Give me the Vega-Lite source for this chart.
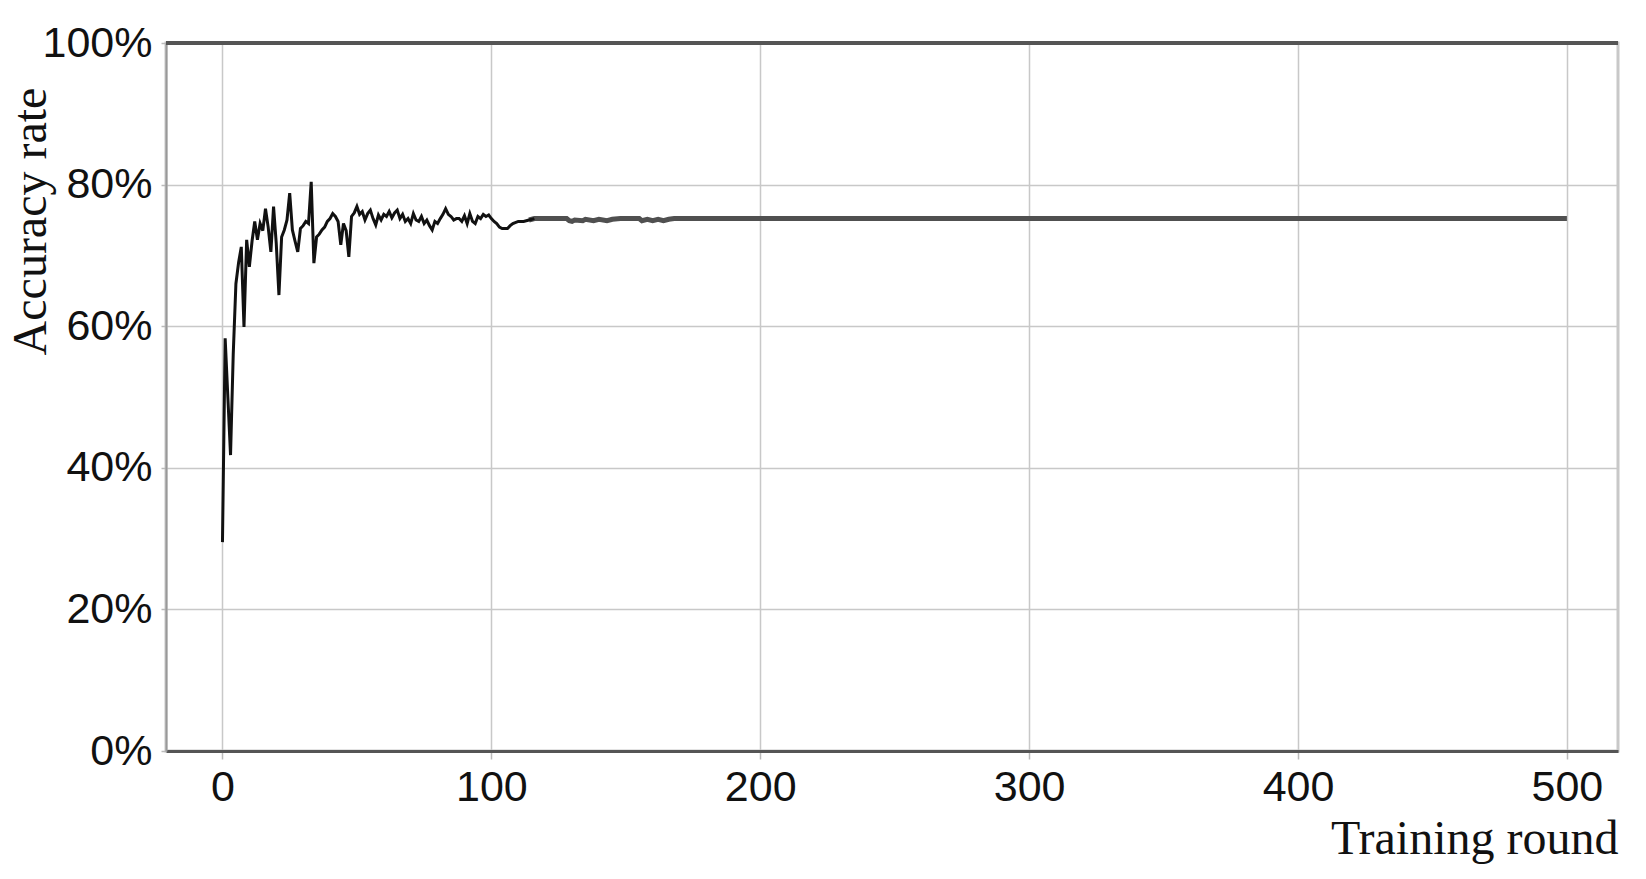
{
  "$schema": "https://vega.github.io/schema/vega-lite/v6.json",
  "width": 1452,
  "height": 708,
  "autosize": {"type": "none"},
  "padding": {"left": 166, "top": 43, "right": 28, "bottom": 128},
  "background": "white",
  "config": {
    "view": {"stroke": "#c8c8c8", "strokeWidth": 3},
    "axis": {
      "labelFont": "Liberation Sans, Arial, sans-serif",
      "labelFontSize": 43,
      "labelColor": "#111",
      "titleFont": "Liberation Serif, Times New Roman, serif",
      "titleFontSize": 48,
      "titleFontWeight": "normal",
      "titleColor": "#111",
      "gridColor": "#c8c8c8",
      "gridWidth": 1.5,
      "tickColor": "#bbbbbb",
      "tickWidth": 1.5
    }
  },
  "data": {
    "values": [
      {"round": 0, "acc": 0.295},
      {"round": 1, "acc": 0.583},
      {"round": 2, "acc": 0.5},
      {"round": 3, "acc": 0.418},
      {"round": 4, "acc": 0.56},
      {"round": 5, "acc": 0.66},
      {"round": 6, "acc": 0.69},
      {"round": 7, "acc": 0.712},
      {"round": 8, "acc": 0.599},
      {"round": 9, "acc": 0.722},
      {"round": 10, "acc": 0.684},
      {"round": 11, "acc": 0.72},
      {"round": 12, "acc": 0.748},
      {"round": 13, "acc": 0.722},
      {"round": 14, "acc": 0.745},
      {"round": 15, "acc": 0.735},
      {"round": 16, "acc": 0.766},
      {"round": 17, "acc": 0.74},
      {"round": 18, "acc": 0.705},
      {"round": 19, "acc": 0.769},
      {"round": 20, "acc": 0.717},
      {"round": 21, "acc": 0.644},
      {"round": 22, "acc": 0.726},
      {"round": 23, "acc": 0.736},
      {"round": 24, "acc": 0.75},
      {"round": 25, "acc": 0.788},
      {"round": 26, "acc": 0.736},
      {"round": 27, "acc": 0.72},
      {"round": 28, "acc": 0.705},
      {"round": 29, "acc": 0.738},
      {"round": 30, "acc": 0.742},
      {"round": 31, "acc": 0.748},
      {"round": 32, "acc": 0.745},
      {"round": 33, "acc": 0.804},
      {"round": 34, "acc": 0.689},
      {"round": 35, "acc": 0.726},
      {"round": 36, "acc": 0.73},
      {"round": 37, "acc": 0.736},
      {"round": 38, "acc": 0.74},
      {"round": 39, "acc": 0.748},
      {"round": 40, "acc": 0.752},
      {"round": 41, "acc": 0.759},
      {"round": 42, "acc": 0.755},
      {"round": 43, "acc": 0.748},
      {"round": 44, "acc": 0.715},
      {"round": 45, "acc": 0.745},
      {"round": 46, "acc": 0.735},
      {"round": 47, "acc": 0.698},
      {"round": 48, "acc": 0.755},
      {"round": 49, "acc": 0.76},
      {"round": 50, "acc": 0.769},
      {"round": 51, "acc": 0.758},
      {"round": 52, "acc": 0.762},
      {"round": 53, "acc": 0.75},
      {"round": 54, "acc": 0.759},
      {"round": 55, "acc": 0.764},
      {"round": 56, "acc": 0.752},
      {"round": 57, "acc": 0.743},
      {"round": 58, "acc": 0.757},
      {"round": 59, "acc": 0.75},
      {"round": 60, "acc": 0.758},
      {"round": 61, "acc": 0.755},
      {"round": 62, "acc": 0.762},
      {"round": 63, "acc": 0.753},
      {"round": 64, "acc": 0.76},
      {"round": 65, "acc": 0.764},
      {"round": 66, "acc": 0.752},
      {"round": 67, "acc": 0.758},
      {"round": 68, "acc": 0.748},
      {"round": 69, "acc": 0.752},
      {"round": 70, "acc": 0.745},
      {"round": 71, "acc": 0.759},
      {"round": 72, "acc": 0.75},
      {"round": 73, "acc": 0.748},
      {"round": 74, "acc": 0.755},
      {"round": 75, "acc": 0.745},
      {"round": 76, "acc": 0.75},
      {"round": 77, "acc": 0.742},
      {"round": 78, "acc": 0.736},
      {"round": 79, "acc": 0.748},
      {"round": 80, "acc": 0.745},
      {"round": 81, "acc": 0.752},
      {"round": 82, "acc": 0.758},
      {"round": 83, "acc": 0.766},
      {"round": 84, "acc": 0.758},
      {"round": 85, "acc": 0.755},
      {"round": 86, "acc": 0.75},
      {"round": 87, "acc": 0.752},
      {"round": 88, "acc": 0.752},
      {"round": 89, "acc": 0.748},
      {"round": 90, "acc": 0.756},
      {"round": 91, "acc": 0.745},
      {"round": 92, "acc": 0.759},
      {"round": 93, "acc": 0.748},
      {"round": 94, "acc": 0.745},
      {"round": 95, "acc": 0.755},
      {"round": 96, "acc": 0.752},
      {"round": 97, "acc": 0.758},
      {"round": 98, "acc": 0.755},
      {"round": 99, "acc": 0.757},
      {"round": 100, "acc": 0.752},
      {"round": 101, "acc": 0.748},
      {"round": 102, "acc": 0.745},
      {"round": 103, "acc": 0.74},
      {"round": 104, "acc": 0.738},
      {"round": 106, "acc": 0.738},
      {"round": 107, "acc": 0.742},
      {"round": 108, "acc": 0.745},
      {"round": 110, "acc": 0.748},
      {"round": 112, "acc": 0.748},
      {"round": 114, "acc": 0.75},
      {"round": 116, "acc": 0.752},
      {"round": 128, "acc": 0.752},
      {"round": 129, "acc": 0.749},
      {"round": 130, "acc": 0.748},
      {"round": 131, "acc": 0.75},
      {"round": 134, "acc": 0.749},
      {"round": 135, "acc": 0.751},
      {"round": 138, "acc": 0.749},
      {"round": 140, "acc": 0.751},
      {"round": 143, "acc": 0.749},
      {"round": 145, "acc": 0.751},
      {"round": 148, "acc": 0.752},
      {"round": 155, "acc": 0.752},
      {"round": 156, "acc": 0.749},
      {"round": 158, "acc": 0.751},
      {"round": 160, "acc": 0.749},
      {"round": 162, "acc": 0.751},
      {"round": 164, "acc": 0.749},
      {"round": 166, "acc": 0.751},
      {"round": 168, "acc": 0.752},
      {"round": 500, "acc": 0.752}
    ]
  },
  "encoding": {
    "x": {
      "field": "round",
      "type": "quantitative",
      "scale": {"domain": [-21, 519], "nice": false, "zero": false},
      "axis": {
        "title": "Training round",
        "values": [0, 100, 200, 300, 400, 500],
        "domainColor": "#555555",
        "domainWidth": 3,
        "tickSize": 8,
        "labelPadding": 41,
        "labelBaseline": "alphabetic",
        "titleAlign": "right",
        "titleAnchor": null,
        "titleX": 1452,
        "titleY": 102,
        "titleBaseline": "alphabetic"
      }
    },
    "y": {
      "field": "acc",
      "type": "quantitative",
      "scale": {"domain": [0, 1], "nice": false},
      "axis": {
        "title": "Accuracy rate",
        "values": [0, 0.2, 0.4, 0.6, 0.8, 1],
        "format": ".0%",
        "domainColor": "#999999",
        "domainWidth": 2,
        "tickSize": 5,
        "labelPadding": 9,
        "labelBaseline": "middle",
        "titleAngle": -90,
        "titleAlign": "center",
        "titleAnchor": null,
        "titleBaseline": "alphabetic",
        "titleX": -121,
        "titleY": 178
      }
    }
  },
  "layer": [
    {
      "mark": {"type": "rule", "color": "#555555", "strokeWidth": 3},
      "encoding": {"x": null, "y": {"datum": 1}}
    },
    {
      "transform": [{"filter": "datum.round >= 114"}],
      "mark": {"type": "line", "color": "#505050", "strokeWidth": 5}
    },
    {
      "transform": [{"filter": "datum.round <= 116"}],
      "mark": {"type": "line", "color": "#111111", "strokeWidth": 3, "strokeJoin": "miter"}
    }
  ]
}
